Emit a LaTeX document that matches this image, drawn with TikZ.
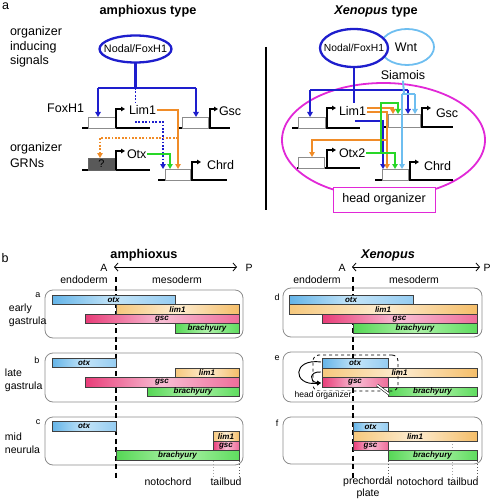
\documentclass[tikz,border=0pt]{standalone}
\usepackage{fontspec}
\setmainfont{Liberation Sans}
\usetikzlibrary{arrows.meta,shapes.geometric,calc}
\definecolor{dblue}{RGB}{30,30,205}
\definecolor{lblue}{RGB}{110,190,240}
\definecolor{orng}{RGB}{240,140,40}
\definecolor{grn}{RGB}{40,215,40}
\definecolor{mgnt}{RGB}{225,40,215}
\definecolor{otxL}{RGB}{100,180,232}
\definecolor{otxM}{RGB}{195,228,248}
\definecolor{otxR}{RGB}{150,205,242}
\definecolor{limL}{RGB}{246,200,125}
\definecolor{limM}{RGB}{253,236,208}
\definecolor{limR}{RGB}{245,190,105}
\definecolor{gscL}{RGB}{232,60,120}
\definecolor{gscM}{RGB}{248,190,212}
\definecolor{gscR}{RGB}{238,110,155}
\definecolor{braL}{RGB}{85,215,85}
\definecolor{braM}{RGB}{175,242,170}
\definecolor{braR}{RGB}{95,220,95}
\newcommand{\mkbar}[7]{\node[barn,#6,minimum width={#3-#1},minimum height={#4-#2}] (#7) at ({(#1+#3)/2},{(#2+#4)/2}) {#5};}
\begin{document}
\begin{tikzpicture}[x=1pt,y=-1pt,
  every node/.style={inner sep=0pt, outer sep=0pt},
  lbl/.style={font=\fontsize{12.5}{14.5}\selectfont},
  ttl/.style={font=\fontsize{12.7}{14}\selectfont\bfseries},
  sm/.style={font=\fontsize{10.5}{13}\selectfont},
  smf/.style={font=\fontsize{9}{10}\selectfont},
  gbox/.style={draw=black!45, fill=white, line width=0.9pt},
  qbox/.style={draw=black!60, fill=black!65, line width=0.9pt},
  bline/.style={line width=1.7pt},
  prom/.style={line width=1.3pt, -{Triangle[length=4pt,width=4.5pt]}},
  arrtip/.style={-{Triangle[length=5pt,width=5.5pt]}},
  blln/.style={draw=dblue, line width=2.2pt},
  bldot/.style={draw=dblue, line width=1.8pt, dash pattern=on 1.8pt off 1.6pt},
  orln/.style={draw=orng, line width=2pt},
  ordot/.style={draw=orng, line width=1.8pt, dash pattern=on 1.8pt off 1.6pt},
  grln/.style={draw=grn, line width=2pt},
  lbln/.style={draw=lblue, line width=2pt},
  rbox/.style={draw=black!45, line width=0.8pt, rounded corners=8pt},
  barn/.style={draw=black!75, line width=0.6pt, font=\fontsize{8}{9}\selectfont\bfseries\itshape},
  otxc/.style={left color=otxL, right color=otxR, middle color=otxM},
  limc/.style={left color=limL, right color=limR, middle color=limM},
  gscc/.style={left color=gscL, right color=gscR, middle color=gscM},
  brac/.style={left color=braL, right color=braR, middle color=braM},
  dln/.style={line width=1.5pt, dash pattern=on 5pt off 3.5pt},
  dtl/.style={line width=1pt, dotted},
  apar/.style={line width=0.8pt, {Straight Barb[length=3.5pt,width=8pt]}-{Straight Barb[length=3.5pt,width=8pt]}}
]
\useasboundingbox (0,0) rectangle (491,500);

%================ panel a, amphioxus =================
\node[lbl, anchor=north west] (ta) at (2,2.5) {a};
\node[ttl] (atitle) at (148,11) {amphioxus type};
\node[lbl, anchor=west, align=left] (sig) at (10,47) {organizer\\inducing\\signals};
\node[lbl, anchor=west, align=left, font=\fontsize{12.5}{15.5}\selectfont] (grn) at (10,155) {organizer\\GRNs};

\node[ellipse, draw=dblue, line width=2.3pt, minimum width=72pt, minimum height=27pt, fill=white] (aNF) at (135.5,49) {};
\node[font=\fontsize{10.8}{12}\selectfont] (aNFt) at (aNF) {Nodal/FoxH1};

% genes
\draw[bline] (82,128) -- (150,128);
\draw[bline] (177,128) -- (230,128);
\draw[bline] (82,170) -- (150,170);
\draw[bline] (158,180) -- (227,180);
\node[gbox, minimum width=27pt, minimum height=11pt] (aB1) at (101.5,122.5) {};
\node[gbox, minimum width=26pt, minimum height=11pt] (aB2) at (195,122.5) {};
\node[qbox, minimum width=27pt, minimum height=12pt, font=\fontsize{11}{12}\selectfont] (aB3) at (101.5,164) {?};
\node[gbox, minimum width=25pt, minimum height=11pt] (aB4) at (177.5,174.5) {};
\draw[prom] (116,128) -- (116,109) -- (125,109);
\draw[prom] (210,128) -- (210,109) -- (218,109);
\draw[prom] (116,170) -- (116,151) -- (125,151);
\draw[prom] (192,180) -- (192,162) -- (201,162);
\node[lbl, anchor=east] (aFox) at (84,108) {FoxH1};
\node[lbl, anchor=west] (aLim) at (129,110) {Lim1};
\node[lbl, anchor=west] (aGsc) at (219,111) {Gsc};
\node[lbl, anchor=west] (aOtx) at (127,154) {Otx};
\node[lbl, anchor=west] (aChrd) at (207,165) {Chrd};

% connectors
\coordinate (aJ) at (135.5,88);
\coordinate (aJL) at (98,88);
\coordinate (aJR) at (196,88);
\draw[blln] (aNF.south) -- (aJ);
\draw[blln] (aJL) -- (aJR);
\draw[blln,arrtip] (aJL) -- (aJL |- aB1.north);
\draw[blln,arrtip] (aJR) -- (aJR |- aB2.north);
\draw[bldot] (aJ) -- ([yshift=2pt]aJ |- aLim.north);
\coordinate (aD1) at (135,122);
\coordinate (aD2) at (163,122);
\draw[bldot,arrtip] (aD1) -- (aD2) -- (aD2 |- aB4.north);
\coordinate (aO1) at (178,138);
\draw[orln,arrtip] ([xshift=1pt]aLim.east) -| (aO1 |- aB4.north);
\coordinate (aO3) at (100,138);
\draw[ordot,arrtip] (aO1) -- (aO3) -- (aO3 |- aB3.north);
\coordinate (aG1) at (170,152);
\draw[grln,arrtip] ([xshift=1pt]aOtx.east) -| (aG1 |- aB4.north);

% divider
\draw[line width=1.8pt] (266,47) -- (266,210);

%================ panel a, Xenopus =================
\node[ttl] (xtitle) at (376,11) {\textit{Xenopus} type};
\node[ellipse, draw=mgnt, line width=1.8pt, minimum width=203pt, minimum height=114pt] (xHO) at (383.5,140) {};
\node[ellipse, draw=lblue, line width=1.8pt, minimum width=54pt, minimum height=36pt] (xW) at (407,47) {};
\node[ellipse, draw=dblue, line width=2.3pt, minimum width=68pt, minimum height=38pt, fill=white] (xNF) at (354,48) {};
\node[font=\fontsize{10.3}{12}\selectfont] (xNFt) at (xNF) {Nodal/FoxH1};
\node[lbl] (xWt) at (406,47) {Wnt};
\node[lbl] (xSia) at (403,75) {Siamois};

\draw[bline] (292,128) -- (360,128);
\draw[bline] (382,127) -- (453,127);
\draw[bline] (297,168) -- (360,168);
\draw[bline] (375,180) -- (453,180);
\node[gbox, minimum width=27pt, minimum height=11pt] (xB1) at (311.5,122.5) {};
\node[gbox, minimum width=32pt, minimum height=13pt] (xB2) at (404,120.5) {};
\node[gbox, minimum width=26pt, minimum height=11pt] (xB3) at (311,162.5) {};
\node[gbox, minimum width=26pt, minimum height=11pt] (xB4) at (395,174.5) {};
\draw[prom] (327,128) -- (327,108) -- (336,108);
\draw[prom] (422,127) -- (422,108) -- (431,108);
\draw[prom] (327,168) -- (327,150) -- (336,150);
\draw[prom] (410,180) -- (410,162) -- (419,162);
\node[lbl, anchor=west] (xLim) at (339,111) {Lim1};
\node[lbl, anchor=west] (xGsc) at (436,113) {Gsc};
\node[lbl, anchor=west] (xOtx) at (339,153) {Otx2};
\node[lbl, anchor=west] (xChrd) at (424,166) {Chrd};

% blue
\coordinate (xJL) at (310,90);
\coordinate (xJR) at (408,90);
\draw[blln] (xNF.south) -- ([yshift=3pt]xNF.south |- xLim.north);
\draw[blln] (xJL) -- (xJR);
\draw[blln,arrtip] (xJL) -- (xJL |- xB1.north);
\draw[blln,arrtip] (xJR) -- (xJR |- xB2.north);
\coordinate (xD1) at (355,121);
\coordinate (xD2) at (383,121);
\draw[blln,arrtip] (xD1) -- (xD2) -- (xD2 |- xB4.north);
% light blue
\coordinate (xS1) at (404,94);
\coordinate (xS2) at (402,94);
\coordinate (xS3) at (415,94);
\draw[lbln] ([yshift=-1pt]xSia.south) -- (xS1);
\draw[lbln] (xS2) -- (xS3);
\draw[lbln,arrtip] (xS3) -- (xS3 |- xB2.north);
\draw[lbln,arrtip] (xS2) -- (xS2 |- xB4.north);
% orange
\coordinate (xO1) at (393,108);
\draw[orln,arrtip] ([shift={(1pt,3pt)}]xLim.east) -| (xO1 |- xB2.north);
\coordinate (xO2) at (387,140);
\draw[orln,arrtip] ([shift={(1pt,-1pt)}]xLim.east) -| (xO2 |- xB4.north);
\coordinate (xO3) at (312,140);
\draw[orln,arrtip] (xO2) -- (xO3) -- (xO3 |- xB3.north);
% green
\coordinate (xG1) at (395,153);
\draw[grln,arrtip] ([xshift=1pt]xOtx.east) -| (xG1 |- xB4.north);
\coordinate (xG2) at (381,153);
\coordinate (xG3) at (398,103);
\draw[grln,arrtip] (xG2) -- (xG2 |- xG3) -- (xG3) -- (xG3 |- xB2.north);

\node[draw=mgnt, line width=1pt, fill=white, minimum width=102pt, minimum height=25pt, lbl] (xHOl) at (384,199.5) {head organizer};

%================ panel b =================
\node[lbl] (tb) at (5,258) {b};
\node[ttl] (bamph) at (144,255) {amphioxus};
\node[ttl] (bxen) at (388,255) {\itshape Xenopus};
\node[sm] (aA) at (104,268) {A};
\node[sm] (aP) at (249,268) {P};
\node[sm] (xA) at (342,268) {A};
\node[sm] (xP) at (487,268) {P};
\coordinate (aAP1) at (114,267);
\coordinate (aAP2) at (237,267);
\coordinate (xAP1) at (352,267);
\coordinate (xAP2) at (480,267);
\draw[apar] (aAP1) -- (aAP2);
\draw[apar] (xAP1) -- (xAP2);
\node[sm] (aEn) at (84,280) {endoderm};
\node[sm] (aMe) at (177,280) {mesoderm};
\node[sm] (xEn) at (317,280) {endoderm};
\node[sm] (xMe) at (414,280) {mesoderm};

% rounded boxes
\node[rbox, minimum width=198pt, minimum height=48pt] (bxa) at (144,314) {};
\node[rbox, minimum width=198pt, minimum height=49pt] (bxb) at (144,377.5) {};
\node[rbox, minimum width=198pt, minimum height=48pt] (bxc) at (144,441) {};
\node[rbox, minimum width=199pt, minimum height=49pt] (bxd) at (382.5,312.5) {};
\node[rbox, minimum width=199pt, minimum height=50pt] (bxe) at (382.5,377) {};
\node[rbox, minimum width=199pt, minimum height=47pt] (bxf) at (382.5,440.5) {};

\node[smf] (la) at (38,295) {a};
\node[smf] (lb) at (37,360) {b};
\node[smf] (lc) at (38,422) {c};
\node[smf] (ld) at (277,297) {d};
\node[smf] (le) at (277,358) {e};
\node[smf] (lf) at (277,423) {f};

\node[sm, anchor=west, align=left] (sa) at (9,315) {early\\gastrula};
\node[sm, anchor=west, align=left] (sb) at (5,380) {late\\gastrula};
\node[sm, anchor=west, align=left] (sc) at (5,443) {mid\\neurula};

% dashed A lines
\coordinate (dA1) at (116,277);
\coordinate (dA2) at (116,478);
\coordinate (dX1) at (353,277);
\coordinate (dX2) at (353,478);
\draw[dln] (dA1) -- (dA2);
\draw[dln] (dX1) -- (dX2);
% dotted markers
\draw[dtl, black!35] (213,461) -- (213,478);
\draw[dtl, black!65] (239,461) -- (239,478);
\draw[dtl, black!65] (388,461) -- (388,478);
\draw[dtl, black!35] (452,441) -- (452,478);
\draw[dtl, black!65] (477,461) -- (477,478);

% bars amphioxus
\mkbar{52}{295}{175}{304.5}{otx}{otxc}{a1}
\mkbar{116}{304.5}{239}{314}{lim1}{limc}{a2}
\mkbar{85}{314}{239}{323.5}{gsc}{gscc}{a3}
\mkbar{175}{323.5}{239}{333}{brachyury}{brac}{a4}
\mkbar{52}{358.5}{116}{367.5}{otx}{otxc}{b1}
\mkbar{175}{368}{239}{377.5}{lim1}{limc}{b2}
\mkbar{85}{377.5}{239}{387}{gsc}{gscc}{b3}
\mkbar{147}{387}{239}{396.5}{brachyury}{brac}{b4}
\mkbar{52}{421.5}{116}{431}{otx}{otxc}{c1}
\mkbar{213}{431.5}{239}{441}{lim1}{limc}{c2}
\mkbar{213}{441}{239}{450.5}{gsc}{gscc}{c3}
\mkbar{116}{450.5}{239}{460}{brachyury}{brac}{c4}
% bars Xenopus
\mkbar{289}{295}{413}{304.5}{otx}{otxc}{d1}
\mkbar{289}{304.5}{477}{314}{lim1}{limc}{d2}
\mkbar{322}{314}{477}{323.5}{gsc}{gscc}{d3}
\mkbar{353}{323.5}{477}{333}{brachyury}{brac}{d4}
\mkbar{322}{358.5}{388}{368}{otx}{otxc}{e1}
\mkbar{322}{368}{477}{377.5}{lim1}{limc}{e2}
\mkbar{322}{377.5}{388}{387}{gsc}{gscc}{e3}
\mkbar{388}{387}{477}{396.5}{brachyury}{brac}{e4}
\mkbar{353}{422}{388}{431.5}{otx}{otxc}{f1}
\mkbar{353}{431.5}{477}{441}{lim1}{limc}{f2}
\mkbar{353}{441}{388}{450.5}{gsc}{gscc}{f3}
\mkbar{388}{450.5}{477}{460}{brachyury}{brac}{f4}

% head organizer in e
\node[draw, dashed, line width=0.8pt, rounded corners=6pt, minimum width=85pt, minimum height=36pt] (eho) at (355.5,373) {};
\node[font=\fontsize{8.5}{10}\selectfont, fill=white, inner sep=0.5pt] (ehol) at (323,395) {head organizer};
\coordinate (ec1) at (321,362);
\coordinate (ec2) at (321,383);
\coordinate (ec3) at (321,372);
\draw[line width=0.9pt, -{Triangle[length=4pt,width=4pt]}] (ec1) .. controls (292,358) and (292,386) .. (ec2);
\draw[line width=0.9pt, -{Triangle[length=4pt,width=4pt]}] (ec3) .. controls (309,371) and (309,382) .. (ec2);
\coordinate (eh1) at (377,385);
\coordinate (eh2) at (389,394);
\draw[line width=0.5pt, double=white, double distance=1.6pt] (eh1) -- (eh2);

% bottom labels
\node[sm] (nA) at (168,482) {notochord};
\node[sm] (tA) at (226,482) {tailbud};
\node[sm, align=center, font=\fontsize{10.5}{12}\selectfont] (pX) at (368,488) {prechordal\\plate};
\node[sm] (nX) at (420,482) {notochord};
\node[sm] (tX) at (463,482) {tailbud};
\end{tikzpicture}
\end{document}
